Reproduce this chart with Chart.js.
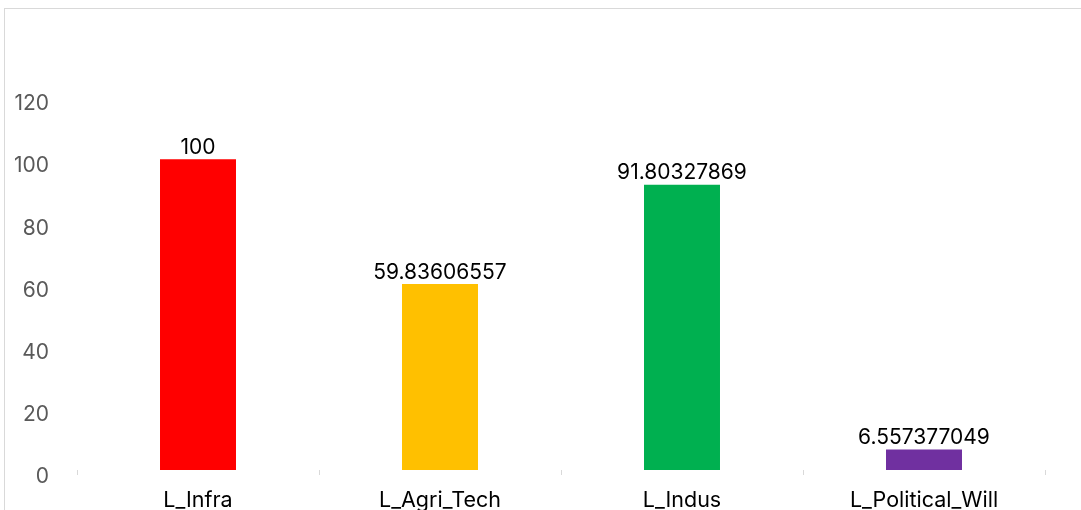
<!DOCTYPE html>
<html>
<head>
<meta charset="utf-8">
<script src="https://cdn.jsdelivr.net/npm/chart.js@4/dist/chart.umd.min.js"></script>
<style>
  html, body { margin: 0; padding: 0; background: #fff; overflow: hidden; }
  #wrap { position: relative; width: 1081px; height: 510px; overflow: hidden; }
  #frame { position: absolute; left: 4px; top: 8px; width: 1200px; height: 600px; border: 1px solid #d9d9d9; box-sizing: border-box; }
  canvas { position: absolute; left: 0; top: 0; }
</style>
</head>
<body>
<div id="wrap">
  <div id="frame"></div>
  <canvas id="chart" width="1081" height="540"></canvas>
</div>
<script>
// Données du graphique
const categories = ['L_Infra', 'L_Agri_Tech', 'L_Indus', 'L_Political_Will'];
const values = [100, 59.83606557, 91.80327869, 6.557377049];
const valueLabels = ['100', '59.83606557', '91.80327869', '6.557377049'];
const barColors = ['#FF0000', '#FFC000', '#00B050', '#7030A0'];
const yTicks = [0, 20, 40, 60, 80, 100, 120];

const FONT = 'Inter, "Liberation Sans", sans-serif';

// Étiquettes de valeur au-dessus des barres
const valueLabelPlugin = {
    id: 'valueLabels',
    afterDatasetsDraw(chart) {
        const ctx = chart.ctx;
        const meta = chart.getDatasetMeta(0);
        ctx.save();
        ctx.font = '21px ' + FONT;
        ctx.fillStyle = '#000000';
        ctx.textAlign = 'center';
        ctx.textBaseline = 'bottom';
        meta.data.forEach((bar, i) => {
            ctx.fillText(valueLabels[i], bar.x, bar.y - 1);
        });
        ctx.restore();
    }
};

new Chart(document.getElementById('chart'), {
    type: 'bar',
    data: {
        labels: categories,
        datasets: [{
            data: values,
            backgroundColor: barColors,
            borderWidth: 0,
            barPercentage: 0.314,
            categoryPercentage: 1
        }]
    },
    options: {
        responsive: false,
        animation: false,
        layout: { padding: { top: 97, left: 0, right: 36, bottom: 0 } },
        plugins: {
            legend: { display: false },
            tooltip: { enabled: false }
        },
        scales: {
            y: {
                min: 0,
                max: 120,
                afterBuildTicks: (scale) => { scale.ticks = yTicks.map(v => ({ value: v })); },
                afterFit: (scale) => { scale.width = 77; },
                border: { display: false },
                grid: { display: false },
                ticks: {
                    color: '#595959',
                    font: { family: FONT, size: 21 },
                    padding: 20,
                    labelOffset: 7
                }
            },
            x: {
                afterFit: (scale) => { scale.height = 70; },
                border: { display: false },
                grid: {
                    offset: true,
                    drawOnChartArea: false,
                    drawTicks: true,
                    tickLength: 5,
                    color: '#d9d9d9'
                },
                ticks: {
                    color: '#000000',
                    font: { family: FONT, size: 21.5 },
                    padding: 13
                }
            }
        }
    },
    plugins: [valueLabelPlugin]
});
</script>
</body>
</html>
